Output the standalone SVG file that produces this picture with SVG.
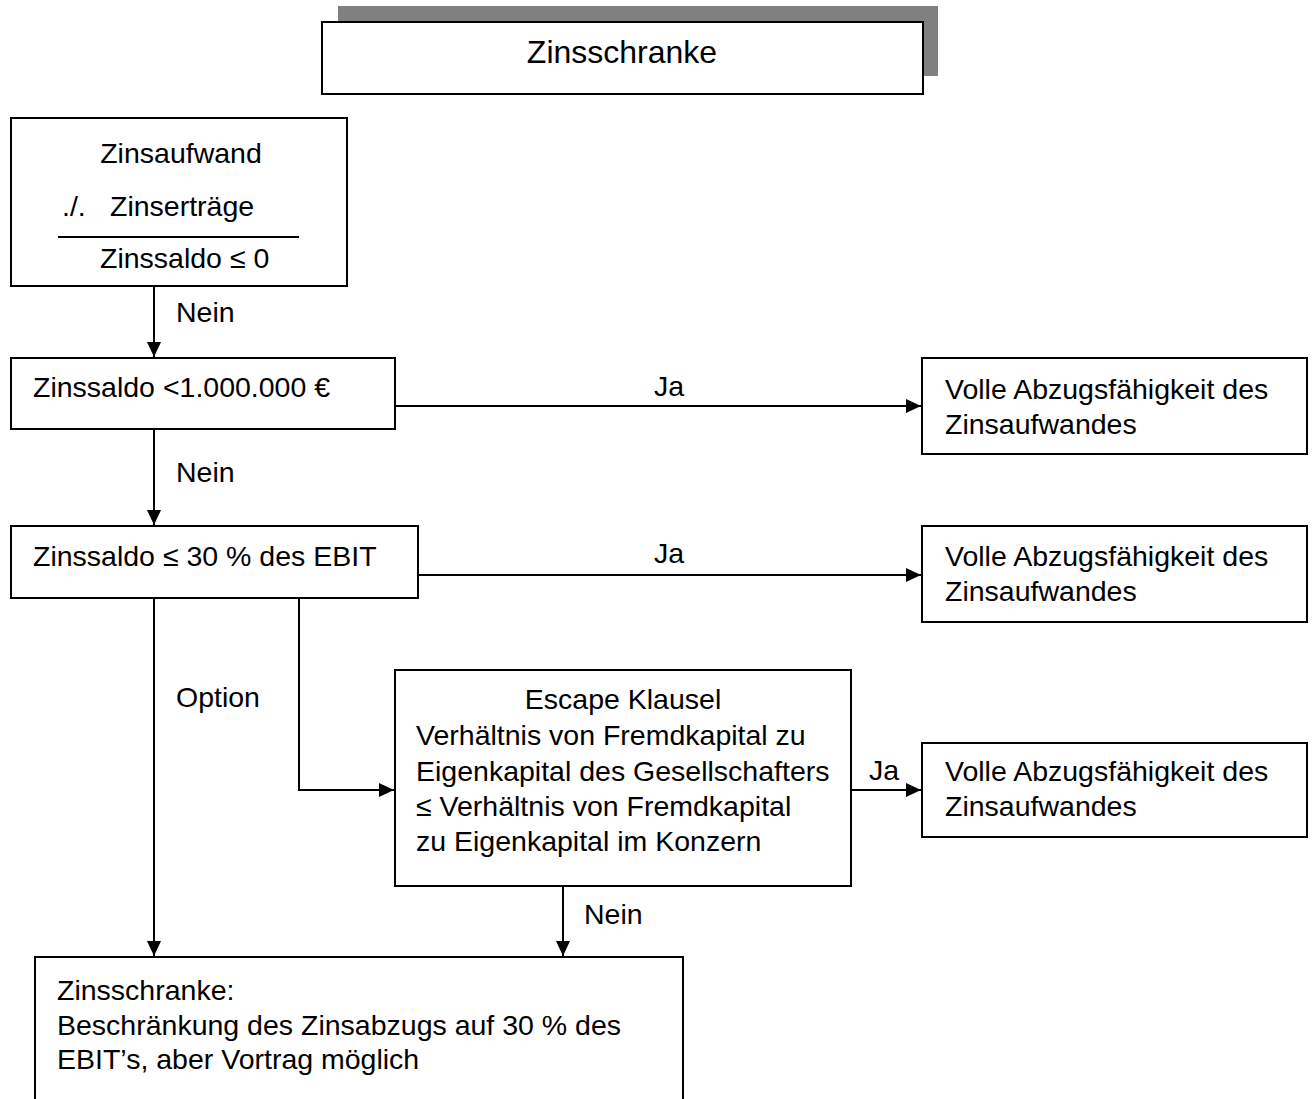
<svg xmlns="http://www.w3.org/2000/svg" width="1312" height="1099" viewBox="0 0 1312 1099">
<style>
  .box { fill: #ffffff; stroke: #000000; stroke-width: 2; }
  .t { font-family: "Liberation Sans", Arial, sans-serif; font-size: 28.5px; fill: #000000; }
  .c { text-anchor: middle; }
  .ln { fill: none; stroke: #000000; stroke-width: 2; }
</style>
<defs>
  <marker id="arr" markerUnits="userSpaceOnUse" markerWidth="16" markerHeight="16" refX="15" refY="7" orient="auto">
    <path d="M0,0 L15,7 L0,14 z" fill="#000000"/>
  </marker>
</defs>
<rect width="1312" height="1099" fill="#ffffff"/>

<g id="title">
  <rect x="338" y="6" width="600" height="70" fill="#808080"/>
  <rect class="box" x="322" y="22" width="601" height="72"/>
  <text class="t c" x="622" y="63" style="font-size:32px">Zinsschranke</text>
</g>

<g id="zinssaldo-calc">
  <rect class="box" x="11" y="118" width="336" height="168"/>
  <text class="t c" x="181" y="163">Zinsaufwand</text>
  <text class="t" x="62" y="216">./.</text>
  <text class="t" x="110" y="216">Zinserträge</text>
  <line class="ln" x1="58" y1="237" x2="299" y2="237"/>
  <text class="t" x="100" y="268">Zinssaldo ≤ 0</text>
</g>

<g id="check-freigrenze">
  <rect class="box" x="11" y="358" width="384" height="71"/>
  <text class="t" x="33" y="397">Zinssaldo &lt;1.000.000 €</text>
</g>

<g id="result-1">
  <rect class="box" x="922" y="358" width="385" height="96"/>
  <text class="t" x="945" y="399">Volle Abzugsfähigkeit des</text>
  <text class="t" x="945" y="434">Zinsaufwandes</text>
</g>

<g id="check-ebit">
  <rect class="box" x="11" y="526" width="407" height="72"/>
  <text class="t" x="33" y="566">Zinssaldo ≤ 30 % des EBIT</text>
</g>

<g id="result-2">
  <rect class="box" x="922" y="526" width="385" height="96"/>
  <text class="t" x="945" y="566">Volle Abzugsfähigkeit des</text>
  <text class="t" x="945" y="601">Zinsaufwandes</text>
</g>

<g id="escape">
  <rect class="box" x="395" y="670" width="456" height="216"/>
  <text class="t c" x="623" y="709">Escape Klausel</text>
  <text class="t" x="416" y="745">Verhältnis von Fremdkapital zu</text>
  <text class="t" x="416" y="781">Eigenkapital des Gesellschafters</text>
  <text class="t" x="416" y="816">≤ Verhältnis von Fremdkapital</text>
  <text class="t" x="416" y="851">zu Eigenkapital im Konzern</text>
</g>

<g id="result-3">
  <rect class="box" x="922" y="743" width="385" height="94"/>
  <text class="t" x="945" y="781">Volle Abzugsfähigkeit des</text>
  <text class="t" x="945" y="816">Zinsaufwandes</text>
</g>

<g id="zinsschranke-result">
  <rect class="box" x="35" y="957" width="648" height="170"/>
  <text class="t" x="57" y="1000">Zinsschranke:</text>
  <text class="t" x="57" y="1035">Beschränkung des Zinsabzugs auf 30 % des</text>
  <text class="t" x="57" y="1069">EBIT’s, aber Vortrag möglich</text>
</g>

<g id="connectors">
  <line class="ln" x1="154" y1="286" x2="154" y2="357" marker-end="url(#arr)"/>
  <text class="t" x="176" y="322">Nein</text>
  <line class="ln" x1="395" y1="406" x2="921" y2="406" marker-end="url(#arr)"/>
  <text class="t c" x="669" y="396">Ja</text>
  <line class="ln" x1="154" y1="429" x2="154" y2="525" marker-end="url(#arr)"/>
  <text class="t" x="176" y="482">Nein</text>
  <line class="ln" x1="418" y1="575" x2="921" y2="575" marker-end="url(#arr)"/>
  <text class="t c" x="669" y="563">Ja</text>
  <line class="ln" x1="154" y1="598" x2="154" y2="956" marker-end="url(#arr)"/>
  <text class="t" x="176" y="707">Option</text>
  <polyline class="ln" points="299,598 299,790 394,790" marker-end="url(#arr)"/>
  <line class="ln" x1="851" y1="790" x2="921" y2="790" marker-end="url(#arr)"/>
  <text class="t" x="869" y="780">Ja</text>
  <line class="ln" x1="563" y1="886" x2="563" y2="956" marker-end="url(#arr)"/>
  <text class="t" x="584" y="924">Nein</text>
</g>
</svg>
